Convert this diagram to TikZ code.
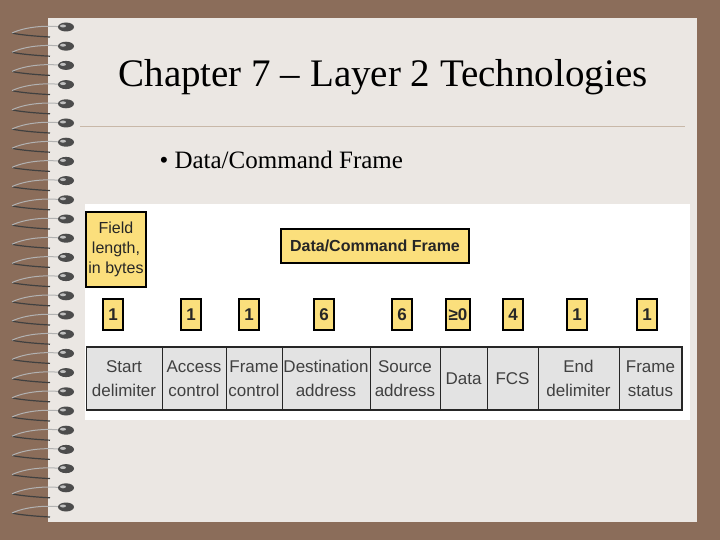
\documentclass[tikz,border=0pt]{standalone}
\usepackage{fontspec}
\setmainfont{Liberation Serif}
\newfontfamily\arial{Liberation Sans}
\definecolor{bgbrown}{HTML}{8B6D5A}
\definecolor{paper}{HTML}{EBE7E3}
\definecolor{ybox}{HTML}{FBDF7C}
\definecolor{cellg}{HTML}{E3E3E3}
\definecolor{rulec}{HTML}{C8B8A8}
\newcommand\st{\strut}
\begin{document}
\begin{tikzpicture}[x=1pt,y=-1pt,
  ybx/.style={draw=black,line width=1.2pt,fill=ybox,inner sep=0pt,font=\arial\bfseries\fontsize{17}{17}\selectfont,text=black!85},
  cell/.style={font=\arial\fontsize{17}{24}\selectfont,align=center,text=black!75,inner sep=0pt}]
\useasboundingbox (0,0) rectangle (720,540);
\fill[bgbrown] (0,0) rectangle (720,540);
\fill[paper] (48,18) rectangle (697,522);
% spiral
\foreach \i in {0,...,25}{
  \pgfmathsetmacro\yy{27+19.2*\i}
  \draw[black!75,line width=1.2pt] (50,\yy+10) .. controls (30,\yy+9) and (15,\yy+7) .. (12,\yy+6);
  \draw[black!30,line width=1pt] (12,\yy+6) .. controls (25,\yy) and (45,\yy-2) .. (62,\yy);
  \fill[black!70] (66,\yy) ellipse (8 and 4.5);
  \fill[black!25] (63,\yy-1) ellipse (3 and 1.5);
}
\node[font=\fontsize{39}{44}\selectfont] (title) at (383,77) {Chapter 7 -- Layer 2 Technologies};
\draw[rulec,line width=0.8pt] (80,126) -- (685,126);
\node[font=\fontsize{25}{28}\selectfont,anchor=west] (bullet) at (156,160) {\textbullet\ Data/Command Frame};
\fill[white] (85,204) rectangle (690,420);
\node[ybx,minimum width=60,minimum height=75,font=\arial\fontsize{16}{20}\selectfont,align=center] (fl) at (116,249.5) {Field\\length,\\in bytes};
\node[ybx,minimum width=188,minimum height=34,font=\arial\bfseries\fontsize{16}{16}\selectfont] (dcf) at (375,246) {Data/Command Frame};
\foreach \x/\t/\w/\n in {113/1/20/a,191/1/20/b,249/1/20/c,324/6/20/d,402/6/20/e,458/≥0/24/f,513/4/20/g,577/1/20/h,647/1/20/i}
  \node[ybx,minimum width=\w,minimum height=31] (n\n) at (\x,314.5) {\t};
\fill[cellg] (86,347) rectangle (682,410);
\draw[black!85,line width=1.2pt] (86,347) -- (682,347) -- (682,410) -- (86,410);
\draw[black!85,line width=0.7pt] (86,347) -- (86,410);
\foreach \x in {162,226,282,370,440,487,538,619}
  \draw[black!85,line width=0.7pt] (\x,347) -- (\x,410);
\foreach \x/\t/\n in {124/{\st Start\\\st delimiter}/a,194/{\st Access\\\st control}/b,254/{\st Frame\\\st control}/c,326/{\st Destination\\\st address}/d,405/{\st Source\\\st address}/e,463.5/{\st Data}/f,512.5/{\st FCS}/g,578.5/{\st End\\\st delimiter}/h,650.5/{\st Frame\\\st status}/i}
  \node[cell] (c\n) at (\x,379.5) {\t};
\end{tikzpicture}
\end{document}
